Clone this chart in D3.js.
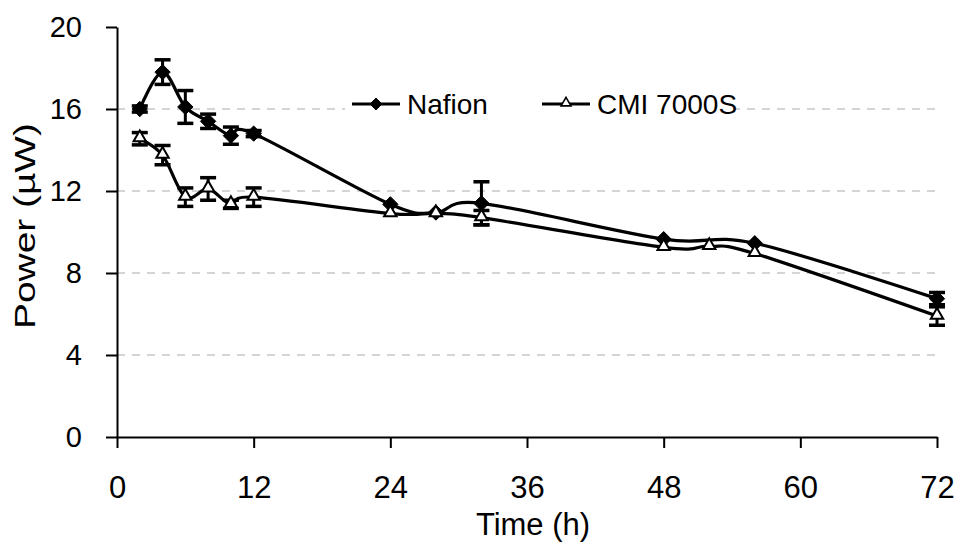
<!DOCTYPE html>
<html>
<head>
<meta charset="utf-8">
<script src="https://cdn.jsdelivr.net/npm/d3@7"></script>
<style>
  body { margin: 0; background: #fff; }
  svg { display: block; font-family: "Liberation Sans", Arial, sans-serif; }
</style>
</head>
<body>
<svg id="chart" width="954" height="548"></svg>
<script>
// ---- data ----
const nafionTime  = [2, 4, 6, 8, 10, 12, 24, 28, 32, 48, 56, 72];
const nafionPower = [16.0, 17.8, 16.1, 15.4, 14.7, 14.8, 11.35, 10.95, 11.4, 9.65, 9.45, 6.75];
const nafionErr   = [0.15, 0.6, 0.8, 0.35, 0.42, 0.15, 0.1, 0.1, 1.05, 0.1, 0.1, 0.3];

const cmiTime  = [2, 4, 6, 8, 10, 12, 24, 28, 32, 48, 52, 56, 72];
const cmiPower = [14.55, 13.75, 11.7, 12.1, 11.35, 11.7, 10.9, 10.9, 10.7, 9.25, 9.3, 8.95, 5.9];
const cmiErr   = [0.3, 0.47, 0.45, 0.55, 0.2, 0.45, 0.1, 0.1, 0.35, 0.1, 0.1, 0.1, 0.45];

const xTicks = [0, 12, 24, 36, 48, 60, 72];
const yTicks = [0, 4, 8, 12, 16, 20];
const gridTicks = [4, 8, 12, 16];
const seriesNames = ["Nafion", "CMI 7000S"];
const xTitle = "Time (h)";
const yTitle = "Power (\u00B5W)";

// ---- layout ----
const svg = d3.select("#chart");
const x = d3.scaleLinear().domain([0, 72]).range([117, 937]);
const y = d3.scaleLinear().domain([0, 20]).range([437, 27]);

// gridlines
svg.append("g").selectAll("line").data(gridTicks).join("line")
  .attr("x1", x(0)).attr("x2", x(72))
  .attr("y1", d => y(d)).attr("y2", d => y(d))
  .attr("stroke", "#c8c8c8").attr("stroke-width", 1.3)
  .attr("stroke-dasharray", "8,7");

// axes
const yAxis = svg.append("g").attr("transform", `translate(${x(0)},0)`)
  .call(d3.axisLeft(y).tickValues(yTicks).tickSize(11).tickSizeOuter(0).tickPadding(24).tickFormat(d3.format("d")));
const xAxis = svg.append("g").attr("transform", `translate(0,${y(0)})`)
  .call(d3.axisBottom(x).tickValues(xTicks).tickSize(11).tickSizeOuter(0).tickPadding(28).tickFormat(d3.format("d")));
[xAxis, yAxis].forEach(g => {
  g.selectAll("path.domain").attr("stroke", "#000").attr("stroke-width", 2);
  g.selectAll(".tick line").attr("stroke", "#000").attr("stroke-width", 2);
  g.selectAll(".tick text").attr("fill", "#000")
    .attr("font-family", "Liberation Sans, Arial, sans-serif");
});
xAxis.selectAll(".tick text").attr("font-size", 31);
yAxis.selectAll(".tick text").attr("font-size", 29);

// titles
svg.append("text").attr("x", 533).attr("y", 535)
  .attr("text-anchor", "middle").attr("font-size", 31).text(xTitle);
svg.append("text").attr("transform", `translate(35,226) rotate(-90)`)
  .attr("text-anchor", "middle").attr("font-size", 29)
  .attr("textLength", 206).attr("lengthAdjust", "spacingAndGlyphs").text(yTitle);

// series
const line = d3.line().x(d => x(d.t)).y(d => y(d.v)).curve(d3.curveCardinal.tension(0));
const diamond = d3.symbol().type(d3.symbolDiamond2).size(150);
const triangle = d3.symbol().type(d3.symbolTriangle2).size(110);

function drawSeries(times, vals, errs, kind) {
  const data = times.map((t, i) => ({ t, v: vals[i], e: errs[i] }));
  const g = svg.append("g");
  g.append("path").datum(data).attr("d", line)
    .attr("fill", "none").attr("stroke", "#000").attr("stroke-width", 3.2);
  const eb = g.selectAll("g.err").data(data.filter(d => d.e > 0.12)).join("g");
  eb.append("line").attr("x1", d => x(d.t)).attr("x2", d => x(d.t))
    .attr("y1", d => y(d.v + d.e)).attr("y2", d => y(d.v - d.e))
    .attr("stroke", "#000").attr("stroke-width", 3);
  [1, -1].forEach(s => {
    eb.append("line").attr("x1", d => x(d.t) - 8).attr("x2", d => x(d.t) + 8)
      .attr("y1", d => y(d.v + s * d.e)).attr("y2", d => y(d.v + s * d.e))
      .attr("stroke", "#000").attr("stroke-width", 3.5);
  });
  g.selectAll("path.m").data(data).join("path").attr("class", "m")
    .attr("transform", d => `translate(${x(d.t)},${y(d.v) + (kind === "tri" ? -1 : 0)})`)
    .attr("d", kind === "tri" ? triangle : diamond)
    .attr("fill", kind === "tri" ? "#fff" : "#000")
    .attr("stroke", "#000").attr("stroke-width", kind === "tri" ? 2 : 1);
}
drawSeries(nafionTime, nafionPower, nafionErr, "dia");
drawSeries(cmiTime, cmiPower, cmiErr, "tri");

// legend
const lg = svg.append("g");
lg.append("rect").attr("x", 345).attr("y", 88).attr("width", 390).attr("height", 34).attr("fill", "#fff");
const legendItems = [
  { name: seriesNames[0], x0: 352, kind: "dia" },
  { name: seriesNames[1], x0: 542, kind: "tri" }
];
legendItems.forEach(it => {
  lg.append("line").attr("x1", it.x0).attr("x2", it.x0 + 48).attr("y1", 104).attr("y2", 104)
    .attr("stroke", "#000").attr("stroke-width", 3);
  lg.append("path").attr("transform", `translate(${it.x0 + 24},${it.kind === "tri" ? 103 : 104})`)
    .attr("d", it.kind === "tri" ? d3.symbol().type(d3.symbolTriangle2).size(70)() : d3.symbol().type(d3.symbolDiamond2).size(90)())
    .attr("fill", it.kind === "tri" ? "#fff" : "#000").attr("stroke", "#000").attr("stroke-width", it.kind === "tri" ? 1.6 : 1);
  lg.append("text").attr("x", it.x0 + 55).attr("y", 114).attr("font-size", 28).text(it.name);
});
</script>
</body>
</html>
